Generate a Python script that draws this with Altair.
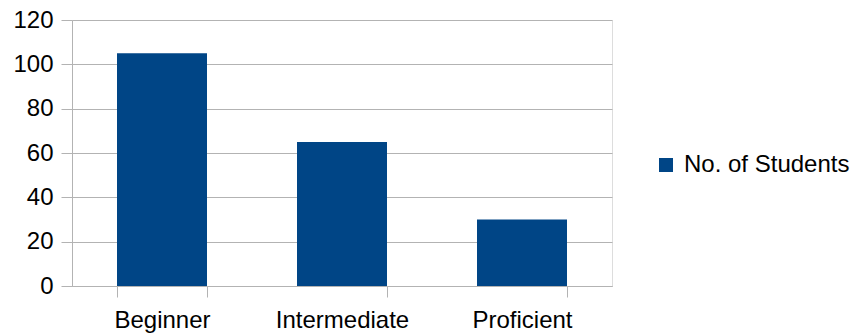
import altair as alt
import pandas as pd

levels = ["Beginner", "Intermediate", "Proficient"]
students = [105, 65, 30]
series_name = "No. of Students"

df = pd.DataFrame({"Level": levels, "Students": students, "Series": [series_name] * len(levels)})

FONT = "Liberation Sans"
FS = 24
GRID = "#b3b3b3"

chart = alt.Chart(df).mark_bar(color="#004586").encode(
    x=alt.X("Level:N", sort=levels, title=None,
            scale=alt.Scale(paddingInner=0.5, paddingOuter=0.25),
            axis=alt.Axis(labelAngle=0, labelFontSize=FS, labelFont=FONT, labelColor="#000000",
                          labelPadding=11, tickBand="extent", tickSize=11, tickColor=GRID,
                          domainColor=GRID, grid=False)),
    y=alt.Y("Students:Q", title=None,
            scale=alt.Scale(domain=[0, 120], nice=False),
            axis=alt.Axis(values=[0, 20, 40, 60, 80, 100, 120], labelFontSize=FS, labelFont=FONT,
                          labelColor="#000000", labelPadding=8, tickSize=11, tickColor=GRID,
                          domainColor=GRID, gridColor=GRID)),
    fill=alt.Fill("Series:N", title=None,
                  scale=alt.Scale(domain=[series_name], range=["#004586"]),
                  legend=alt.Legend(orient="none", legendX=582, legendY=133, padding=0,
                                    symbolType="square", symbolSize=196, symbolStrokeWidth=0,
                                    labelFontSize=FS, labelFont=FONT, labelColor="#000000",
                                    labelOffset=6, labelLimit=400)),
).properties(
    width=540, height=266,
    autosize=alt.AutoSizeParams(type="none"),
    padding={"left": 72, "top": 20, "right": 251, "bottom": 50},
).configure_view(stroke="#cccccc").configure(background="white")

chart.save("out.html", embed_options={"renderer": "svg", "actions": False})
